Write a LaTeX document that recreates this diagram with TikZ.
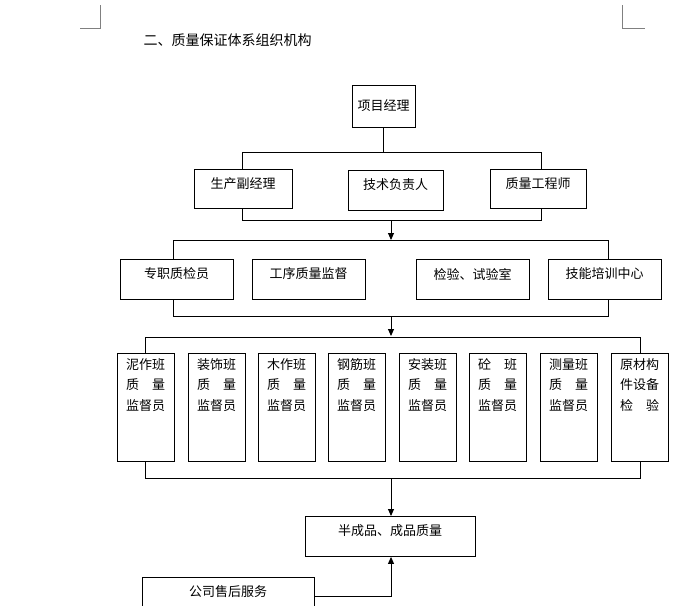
\documentclass[tikz,border=0pt]{standalone}
\usepackage{fontspec}
\setmainfont{Noto Sans CJK SC}
\usetikzlibrary{arrows.meta}
\begin{document}
\begin{tikzpicture}[x=1pt,y=-1pt,
  bx/.style={draw,line width=0.9pt,inner sep=0pt,font=\fontsize{13}{20}\selectfont},
  ln/.style={line width=0.9pt},
  ar/.style={line width=0.9pt,-{Triangle[length=7pt,width=6pt]}}]
\useasboundingbox[fill=white] (0,0) rectangle (700,605);
% corner marks
\draw[gray,line width=0.6pt] (100,5) -- (100,28) -- (80,28);
\draw[gray,line width=0.6pt] (622,5) -- (622,28) -- (645,28);
\node[anchor=west,font=\fontsize{14}{16}\selectfont] (title) at (140,40) {二、质量保证体系组织机构};
% level 1
\node[bx,minimum width=63pt,minimum height=42pt] (pm) at (383.5,106) {项目经理};
% level 2
\node[bx,minimum width=98pt,minimum height=39pt,anchor=north west,text depth=0pt] (a1) at (194,169) {};
\node[font=\fontsize{13}{15}\selectfont] at (243,184) {生产副经理};
\node[bx,minimum width=95pt,minimum height=40pt,anchor=north west] (a2) at (348,170) {};
\node[font=\fontsize{13}{15}\selectfont] at (395.5,185) {技术负责人};
\node[bx,minimum width=96pt,minimum height=39pt,anchor=north west] (a3) at (490,169) {};
\node[font=\fontsize{13}{15}\selectfont] at (538,184) {质量工程师};
\coordinate (t2l) at (242,152); \coordinate (t2r) at (541,152);
\draw[ln] (pm.south) -- (383.5,152);
\draw[ln] (a1.north -| t2l) -- (t2l) -- (t2r) -- (a3.north -| t2r);
\coordinate (b2l) at (242,220); \coordinate (b2r) at (541,220);
\draw[ln] (a1.south -| b2l) -- (b2l) -- (b2r) -- (a3.south -| b2r);
% level 3
\coordinate (t3l) at (173,240); \coordinate (t3r) at (608,240);
\draw[ar] (391,220) -- (391,240);
\foreach \n/\x/\t in {c1/120/专职质检员,c2/252/工序质量监督,c3/416/检验、试验室,c4/548/技能培训中心}{
  \node[bx,minimum width=113pt,minimum height=40pt,anchor=north west] (\n) at (\x,259) {};
  \node[font=\fontsize{13}{15}\selectfont] at (\x+56.5,274) {\t};
}
\draw[ln] (c1.north -| t3l) -- (t3l) -- (t3r) -- (c4.north -| t3r);
\coordinate (b3l) at (173,316); \coordinate (b3r) at (608,316);
\draw[ln] (c1.south -| b3l) -- (b3l) -- (b3r) -- (c4.south -| b3r);
\draw[ar] (391,316) -- (391,336);
% level 4
\coordinate (t4l) at (145,337); \coordinate (t4r) at (640,337);
\draw[ln] (t4l) -- (t4r);
\foreach \n/\x/\a/\b/\c in {
 d1/117/泥作班/质\quad 量/监督员, d2/188/装饰班/质\quad 量/监督员,
 d3/258/木作班/质\quad 量/监督员, d4/328/钢筋班/质\quad 量/监督员,
 d5/399/安装班/质\quad 量/监督员, d6/469/砼\quad 班/质\quad 量/监督员,
 d7/540/测量班/质\quad 量/监督员, d8/611/原材构/件设备/检\quad 验}{
  \node[bx,minimum width=57pt,minimum height=108pt,anchor=north west] (\n) at (\x,353) {};
  \node[align=center,anchor=north,font=\fontsize{13}{20.5}\selectfont,inner sep=0pt] at (\x+28.5,358) {\a\\\b\\\c};
}
\draw[ln] (d1.north -| t4l) -- (t4l);
\draw[ln] (d8.north -| t4r) -- (t4r);
\coordinate (b4l) at (145,478); \coordinate (b4r) at (640,478);
\draw[ln] (d1.south -| b4l) -- (b4l) -- (b4r) -- (d8.south -| b4r);
% bottom
\node[bx,minimum width=170pt,minimum height=40pt,anchor=north west] (e) at (305,516) {};
\node[font=\fontsize{13}{15}\selectfont] at (390,531) {半成品、成品质量};
\draw[ar] (391,478) -- (e.north -| 391,0);
\node[bx,minimum width=172pt,minimum height=40pt,anchor=north west] (f) at (142,577) {};
\node[font=\fontsize{13}{15}\selectfont] at (228,592) {公司售后服务};
\draw[ar] (314,596) -- (391,596) -- (e.south -| 391,0);
\end{tikzpicture}
\end{document}
